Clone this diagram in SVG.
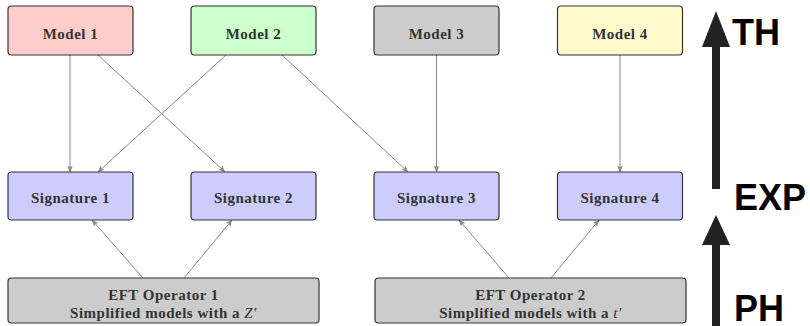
<svg xmlns="http://www.w3.org/2000/svg" width="810" height="326" viewBox="0 0 810 326">
<defs>
<style>
.box{stroke:#333;stroke-width:1.2}
.t{font-family:"Liberation Serif","DejaVu Serif",serif;font-weight:bold;font-size:15px;fill:#333;text-anchor:middle;letter-spacing:0.5px}
.c{stroke:#8a8a8a;stroke-width:1;fill:none;marker-end:url(#ah)}
.big{font-family:"Liberation Sans",Arial,sans-serif;font-weight:bold;font-size:36px;fill:#000}
</style>
<marker id="ah" viewBox="0 0 10 10" refX="9" refY="5" markerWidth="7" markerHeight="7" markerUnits="userSpaceOnUse" orient="auto">
<path d="M0,1 L10,5 L0,9 L2,5 Z" fill="#8a8a8a"/>
</marker>
</defs>
<rect width="810" height="326" fill="#fff"/>
<g id="connectors">
<line class="c" x1="70" y1="55" x2="70" y2="172"/>
<line class="c" x1="98" y1="55" x2="225" y2="172"/>
<line class="c" x1="226" y1="55" x2="98" y2="172"/>
<line class="c" x1="282" y1="55" x2="408" y2="172"/>
<line class="c" x1="436.5" y1="55" x2="436.5" y2="172"/>
<line class="c" x1="620" y1="55" x2="620" y2="172"/>
<line class="c" x1="143" y1="278" x2="92" y2="220"/>
<line class="c" x1="184" y1="278" x2="232" y2="220"/>
<line class="c" x1="509" y1="278" x2="459" y2="220"/>
<line class="c" x1="551" y1="278" x2="599" y2="220"/>
</g>
<g id="model1"><rect class="box" x="8" y="6" width="125" height="49" rx="3.5" fill="#ffcccc"/><text class="t" x="70.5" y="39">Model 1</text></g>
<g id="model2"><rect class="box" x="191" y="6" width="125" height="49" rx="3.5" fill="#ccffcc"/><text class="t" x="253.5" y="39">Model 2</text></g>
<g id="model3"><rect class="box" x="374" y="6" width="125" height="49" rx="3.5" fill="#cccccc"/><text class="t" x="436.5" y="39">Model 3</text></g>
<g id="model4"><rect class="box" x="557.5" y="6" width="125" height="49" rx="3.5" fill="#fffacc"/><text class="t" x="620" y="39">Model 4</text></g>
<g id="sig1"><rect class="box" x="8" y="172" width="125" height="48" rx="3.5" fill="#ccccff"/><text class="t" x="70.5" y="203">Signature 1</text></g>
<g id="sig2"><rect class="box" x="191" y="172" width="125" height="48" rx="3.5" fill="#ccccff"/><text class="t" x="253.5" y="203">Signature 2</text></g>
<g id="sig3"><rect class="box" x="374" y="172" width="125" height="48" rx="3.5" fill="#ccccff"/><text class="t" x="436.5" y="203">Signature 3</text></g>
<g id="sig4"><rect class="box" x="557.5" y="172" width="125" height="48" rx="3.5" fill="#ccccff"/><text class="t" x="620" y="203">Signature 4</text></g>
<g id="eft1"><rect class="box" x="8" y="278" width="311" height="45" rx="3.5" fill="#cccccc"/><text class="t" x="163.5" y="300">EFT Operator 1</text><text class="t" x="163.5" y="318">Simplified models with a <tspan font-style="italic" font-weight="normal">Z′</tspan></text></g>
<g id="eft2"><rect class="box" x="375" y="278" width="311" height="45" rx="3.5" fill="#cccccc"/><text class="t" x="530.5" y="300">EFT Operator 2</text><text class="t" x="530.5" y="318">Simplified models with a <tspan font-style="italic" font-weight="normal">t′</tspan></text></g>
<g id="scale">
<polygon points="716,11 730,47 702,47" fill="#222"/>
<rect x="712" y="46" width="8" height="143" fill="#222"/>
<polygon points="716,215 730,245 702,245" fill="#222"/>
<rect x="712" y="244" width="8" height="82" fill="#222"/>
<text class="big" x="732" y="45">TH</text>
<text class="big" x="734" y="210">EXP</text>
<text class="big" x="734" y="321">PH</text>
</g>
</svg>
